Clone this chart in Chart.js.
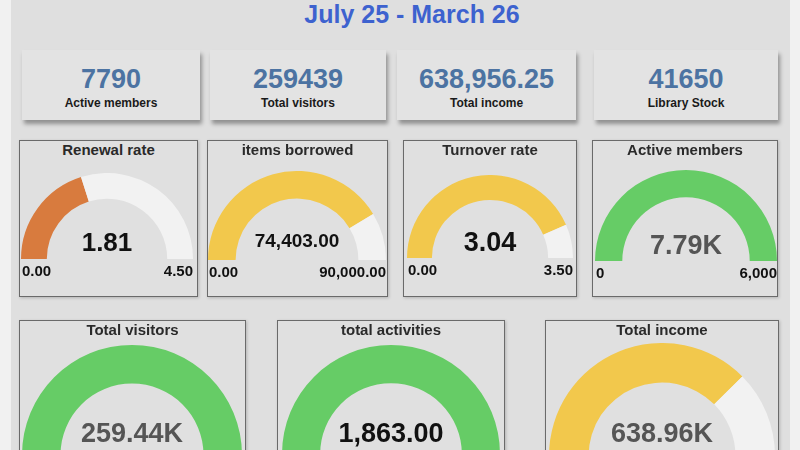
<!DOCTYPE html>
<html>
<head>
<meta charset="utf-8">
<script src="https://cdn.jsdelivr.net/npm/chart.js@4.4.1/dist/chart.umd.min.js"></script>
<style>
    body {
        margin: 0;
        width: 800px;
        height: 450px;
        overflow: hidden;
        position: relative;
        background: #f1f1f1;
        font-family: "Liberation Sans", Arial, sans-serif;
    }
    #panel {
        position: absolute;
        left: 11px;
        top: 0;
        width: 779px;
        height: 450px;
        background: #dfdfdf;
    }
    .abs { position: absolute; white-space: nowrap; }
    .narrow { font-family: "Liberation Sans Narrow", "Arial Narrow", "Liberation Sans", sans-serif; }
    .card {
        position: absolute;
        background: #e3e3e3;
        box-shadow: 2px 4px 4px rgba(0, 0, 0, 0.35);
    }
    .box {
        position: absolute;
        box-sizing: border-box;
        border: 1px solid #6a6a6a;
        background: #e0e0e0;
        box-shadow: 1px 1px 3px rgba(0, 0, 0, 0.2);
    }
    canvas { position: absolute; }
</style>
</head>
<body>
<div id="panel"></div>

<script>
// header
const pageTitle = 'July 25 - March 26';

// KPI cards
const cardValues = ['7790', '259439', '638,956.25', '41650'];
const cardLabels = ['Active members', 'Total visitors', 'Total income', 'Library Stock'];

// gauges
const gaugeTitles = ['Renewal rate', 'items borrowed', 'Turnover rate', 'Active members',
    'Total visitors', 'total activities', 'Total income'];
const gaugeValues = [1.81, 74403, 3.04, 7790, 259439, 1863, 638956.25];
const gaugeMin = [0, 0, 0, 0, 0, 0, 0];
const gaugeMax = [4.5, 90000, 3.5, 6000, 250000, 1800, 850000];
const gaugeValueLabels = ['1.81', '74,403.00', '3.04', '7.79K', '259.44K', '1,863.00', '638.96K'];
const gaugeMinLabels = ['0.00', '0.00', '0.00', '0', null, null, null];
const gaugeMaxLabels = ['4.50', '90,000.00', '3.50', '6,000', null, null, null];
const gaugeColors = ['#d87b3e', '#f2c84c', '#f2c84c', '#66cc66', '#66cc66', '#66cc66', '#f2c84c'];
const trackColor = '#f2f2f2';

// layout (pixels)
const cardBoxes = [[22, 50, 178, 70], [210, 50, 176, 70], [397, 50, 179, 70], [594, 50, 184, 70]];
const gaugeLayout = [
    { box: [19, 140, 179, 157], cx: 107, top: 173, r: 86, cut: '70%', vFont: 26, vY: 242, vColor: '#111' },
    { box: [207, 140, 181, 157], cx: 297, top: 171, r: 89, cut: '69%', vFont: 19, vY: 241, vColor: '#111' },
    { box: [403, 140, 174, 157], cx: 490, top: 175, r: 83, cut: '70%', vFont: 27, vY: 242, vColor: '#111' },
    { box: [592, 140, 186, 157], cx: 686, top: 170, r: 91, cut: '70%', vFont: 27, vY: 245, vColor: '#555' },
    { box: [19, 320, 227, 160], cx: 132, top: 345, r: 110, cut: '65%', vFont: 27, vY: 433, vColor: '#555' },
    { box: [277, 320, 228, 160], cx: 391, top: 345, r: 109, cut: '65%', vFont: 27, vY: 433, vColor: '#111' },
    { box: [545, 320, 234, 160], cx: 662, top: 343, r: 113, cut: '65%', vFont: 27, vY: 433, vColor: '#555' }
];

function addText(text, x, y, size, color, align, cls) {
    const d = document.createElement('div');
    d.className = 'abs' + (cls ? ' ' + cls : '');
    d.textContent = text;
    d.style.fontSize = size + 'px';
    d.style.fontWeight = 'bold';
    d.style.color = color;
    d.style.height = '40px';
    d.style.lineHeight = '40px';
    d.style.top = (y - 20) + 'px';
    d.style.width = '400px';
    d.style.textAlign = align;
    if (align === 'center') d.style.left = (x - 200) + 'px';
    else if (align === 'left') d.style.left = x + 'px';
    else d.style.left = (x - 400) + 'px';
    document.body.appendChild(d);
}

addText(pageTitle, 412, 14, 25, '#3d62cf', 'center', 'narrow');

cardBoxes.forEach((b, i) => {
    const c = document.createElement('div');
    c.className = 'card';
    c.style.left = b[0] + 'px';
    c.style.top = b[1] + 'px';
    c.style.width = b[2] + 'px';
    c.style.height = b[3] + 'px';
    document.body.appendChild(c);
    const cx = b[0] + b[2] / 2;
    addText(cardValues[i], cx, 79, 27, '#4c73a2', 'center', 'narrow');
    addText(cardLabels[i], cx, 103, 12, '#1a1a1a', 'center', 'narrow');
});

gaugeLayout.forEach((g, i) => {
    const box = document.createElement('div');
    box.className = 'box';
    box.style.left = g.box[0] + 'px';
    box.style.top = g.box[1] + 'px';
    box.style.width = g.box[2] + 'px';
    box.style.height = g.box[3] + 'px';
    document.body.appendChild(box);

    const canvas = document.createElement('canvas');
    canvas.width = g.r * 2;
    canvas.height = g.r;
    canvas.style.left = (g.cx - g.r) + 'px';
    canvas.style.top = g.top + 'px';
    document.body.appendChild(canvas);

    const span = gaugeMax[i] - gaugeMin[i];
    const filled = Math.min(Math.max(gaugeValues[i] - gaugeMin[i], 0), span);

    new Chart(canvas.getContext('2d'), {
        type: 'doughnut',
        data: {
            labels: ['value', 'rest'],
            datasets: [{
                data: [filled, span - filled],
                backgroundColor: [gaugeColors[i], trackColor],
                borderWidth: 0
            }]
        },
        options: {
            responsive: false,
            animation: false,
            events: [],
            rotation: -90,
            circumference: 180,
            cutout: g.cut,
            layout: { padding: 0 },
            plugins: {
                legend: { display: false },
                tooltip: { enabled: false }
            }
        }
    });

    addText(gaugeTitles[i], g.box[0] + g.box[2] / 2, g.box[1] + 10, 15, '#2a2a2a', 'center');
    addText(gaugeValueLabels[i], g.cx, g.vY, g.vFont, g.vColor, 'center');
    if (gaugeMinLabels[i] !== null) {
        addText(gaugeMinLabels[i], g.cx - g.r + 1, g.top + g.r + 12, 15, '#111', 'left');
        addText(gaugeMaxLabels[i], g.cx + g.r, g.top + g.r + 12, 15, '#111', 'right');
    }
});
</script>
</body>
</html>
